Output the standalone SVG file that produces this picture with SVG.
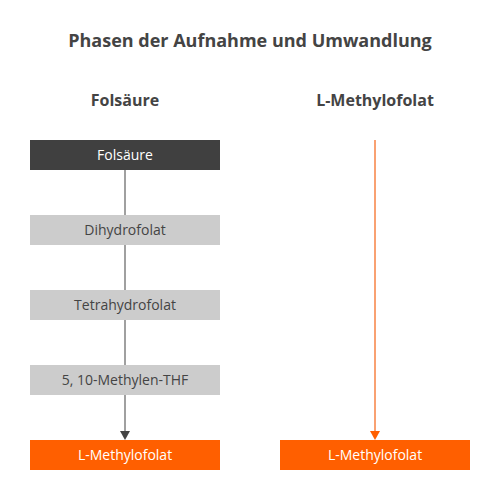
<svg xmlns="http://www.w3.org/2000/svg" width="500" height="500" viewBox="0 0 500 500">
<style>
text{font-family:"Open Sans","Liberation Sans",sans-serif;text-anchor:middle}
.title{font-size:18px;font-weight:bold;fill:#444}
.head{font-size:16px;font-weight:bold;fill:#444}
.lbl{font-size:14px}
.dark{fill:#404040}
.gray{fill:#cccccc}
.orange{fill:#ff5f00}
.wt{fill:#fff}
.gt{fill:#444}
</style>
<rect width="500" height="500" fill="#fff"/>
<text class="title" x="250" y="47">Phasen der Aufnahme und Umwandlung</text>
<text class="head" x="125" y="106">Folsäure</text>
<text class="head" x="375" y="106">L-Methylofolat</text>
<g id="connectors">
<line x1="125" y1="170" x2="125" y2="432" stroke="#a0a0a0" stroke-width="2"/>
<polygon points="120,431 130,431 125,440" fill="#444"/>
<line x1="375" y1="140" x2="375" y2="432" stroke="#f9a172" stroke-width="2"/>
<polygon points="370,431 380,431 375,440" fill="#ff5f00"/>
</g>
<g id="n1"><rect class="dark" x="30" y="140" width="190" height="30"/><text class="lbl wt" x="125" y="160">Folsäure</text></g>
<g id="n2"><rect class="gray" x="30" y="215" width="190" height="30"/><text class="lbl gt" x="125" y="235">Dihydrofolat</text></g>
<g id="n3"><rect class="gray" x="30" y="290" width="190" height="30"/><text class="lbl gt" x="125" y="310">Tetrahydrofolat</text></g>
<g id="n4"><rect class="gray" x="30" y="365" width="190" height="30"/><text class="lbl gt" x="125" y="385">5, 10-Methylen-THF</text></g>
<g id="n5"><rect class="orange" x="30" y="440" width="190" height="30"/><text class="lbl wt" x="125" y="460">L-Methylofolat</text></g>
<g id="n6"><rect class="orange" x="280" y="440" width="190" height="30"/><text class="lbl wt" x="375" y="460">L-Methylofolat</text></g>
</svg>
